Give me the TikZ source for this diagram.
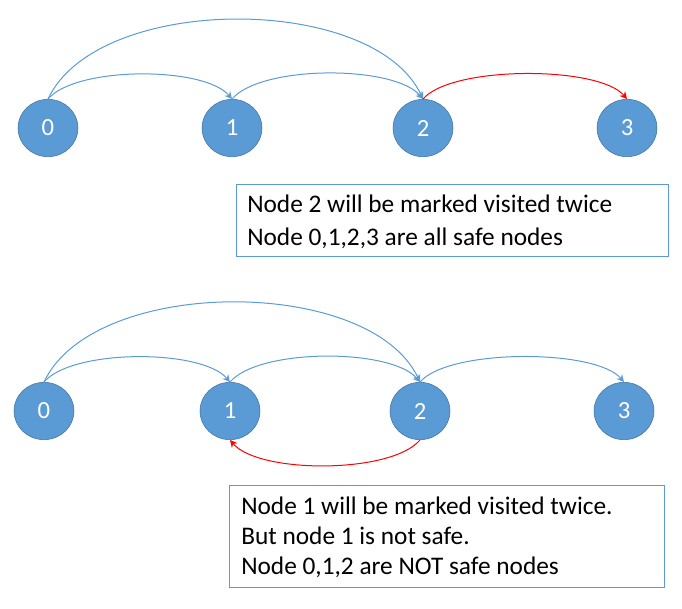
\documentclass[tikz,border=0pt]{standalone}
\usepackage{fontspec}
\setmainfont{Carlito}
\usetikzlibrary{shapes.geometric,arrows.meta}
\definecolor{nodeblue}{HTML}{5B9BD5}
\definecolor{rimblue}{HTML}{41719C}
\definecolor{hotred}{HTML}{FF0000}
\tikzset{
	vtx/.style={ellipse, draw=rimblue, fill=nodeblue, minimum width=45pt, minimum height=43pt, inner sep=0pt, text=white, font=\fontsize{18.5}{20}\selectfont},
	arc/.style={draw=nodeblue, line width=0.75pt, -{Stealth[length=5.5pt,width=5.5pt]}},
	hotarc/.style={arc, draw=hotred},
	notebox/.style={draw=nodeblue, line width=0.75pt},
	noteline/.style={anchor=base west, inner sep=0pt, font=\fontsize{19}{24}\selectfont}
}
\begin{document}
\begin{tikzpicture}[x=0.75pt, y=0.75pt]
		\useasboundingbox (0,0) rectangle (682,-608);

		% first graph
		\foreach \v/\x in {0/48,1/232,2/423,3/627} {
			\node[vtx] (a\v) at (\x,-128) {\v};
		}
		\draw[arc] (a0.north) to[out=50, in=130, looseness=0.6] (a1.north);
		\draw[arc] (a1.north) to[out=50, in=130, looseness=0.6] (a2.north);
		\draw[arc] (a0.north) to[out=65, in=115, looseness=0.8] (a2.north);
		\draw[hotarc] (a2.north) to[out=50, in=130, looseness=0.55] (a3.north);

		\draw[notebox] (236,-184) rectangle (668,-256);
		\node[noteline] (a-note1) at (247,-212) {Node 2 will be marked visited twice};
		\node[noteline] (a-note2) at (247,-245) {Node 0,1,2,3 are all safe nodes};

		% second graph
		\foreach \v/\x in {0/44,1/230,2/420,3/624} {
			\node[vtx] (b\v) at (\x,-411) {\v};
		}
		\draw[arc] (b0.north) to[out=50, in=130, looseness=0.6] (b1.north);
		\draw[arc] (b1.north) to[out=50, in=130, looseness=0.6] (b2.north);
		\draw[arc] (b0.north) to[out=65, in=115, looseness=0.8] (b2.north);
		\draw[arc] (b2.north) to[out=50, in=130, looseness=0.55] (b3.north);
		\draw[hotarc] (b2.south) to[out=-130, in=-50, looseness=0.6] (b1.south);

		\draw[notebox] (229,-485) rectangle (664,-587);
		\node[noteline] (b-note1) at (241,-514) {Node 1 will be marked visited twice.};
		\node[noteline] (b-note2) at (241,-544) {But node 1 is not safe.};
		\node[noteline] (b-note3) at (241,-574) {Node 0,1,2 are NOT safe nodes};
	\end{tikzpicture}
\end{document}
